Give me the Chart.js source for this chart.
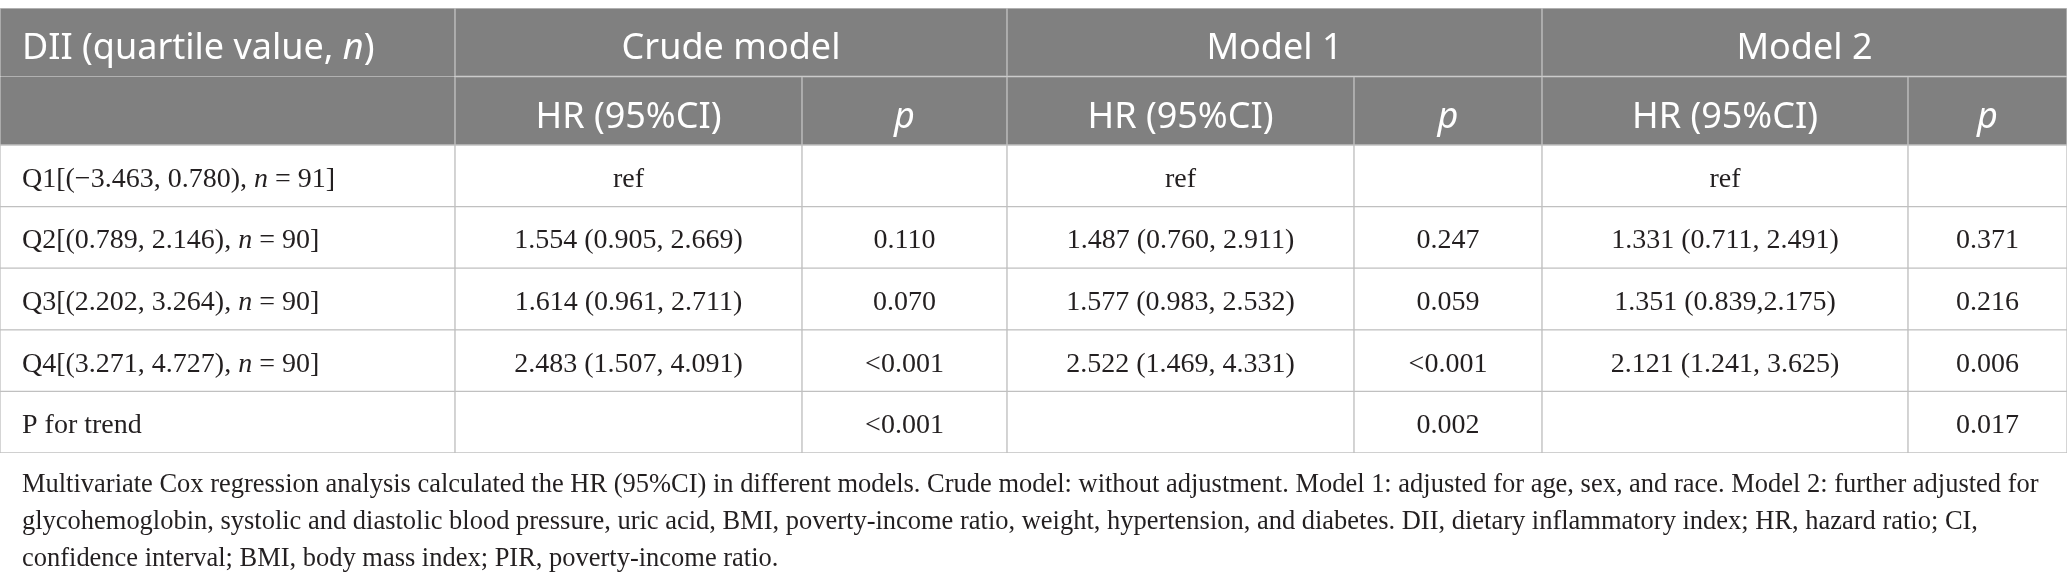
<!DOCTYPE html>
<html>
<head>
<meta charset="utf-8">
<script src="https://cdn.jsdelivr.net/npm/chart.js@4"></script>
<style>
  html, body { margin: 0; padding: 0; background: #fff; }
  #table0 { display: block; }
</style>
</head>
<body>
<canvas id="table0" width="2067" height="584"></canvas>
<script>
// DATA (text wrapped in *...* is italic)

const firstHeader = 'DII (quartile value, *n*)'
const modelNames = ['Crude model', 'Model 1', 'Model 2']
const subHeaders = ['HR (95%CI)', '*p*']

const rowKeys = ['Q1', 'Q2', 'Q3', 'Q4', 'P']
const rowLabels = [
    'Q1[(\u22123.463, 0.780), *n* = 91]',
    'Q2[(0.789, 2.146), *n* = 90]',
    'Q3[(2.202, 3.264), *n* = 90]',
    'Q4[(3.271, 4.727), *n* = 90]',
    'P for trend'
]

const crudeHR = ['ref', '1.554 (0.905, 2.669)', '1.614 (0.961, 2.711)', '2.483 (1.507, 4.091)', '']
const crudeP = ['', '0.110', '0.070', '<0.001', '<0.001']
const model1HR = ['ref', '1.487 (0.760, 2.911)', '1.577 (0.983, 2.532)', '2.522 (1.469, 4.331)', '']
const model1P = ['', '0.247', '0.059', '<0.001', '0.002']
const model2HR = ['ref', '1.331 (0.711, 2.491)', '1.351 (0.839,2.175)', '2.121 (1.241, 3.625)', '']
const model2P = ['', '0.371', '0.216', '0.006', '0.017']

const footnote = [
    'Multivariate Cox regression analysis calculated the HR (95%CI) in different models. Crude model: without adjustment. Model 1: adjusted for age, sex, and race. Model 2: further adjusted for',
    'glycohemoglobin, systolic and diastolic blood pressure, uric acid, BMI, poverty-income ratio, weight, hypertension, and diabetes. DII, dietary inflammatory index; HR, hazard ratio; CI,',
    'confidence interval; BMI, body mass index; PIR, poverty-income ratio.'
]

// LAYOUT

const colWidths = [455, 347, 205, 347, 188, 366, 159]
const colEdges = [0]
colWidths.forEach((w, i) => colEdges.push(colEdges[i] + w))

const HEAD_BG = '#808080'
const LINE = '#c0c0c0'
const INK = '#231f20'
const headFont = '"Noto Sans", sans-serif'
const bodyFont = '"Liberation Serif", serif'

// header cells: row, first column, last column (exclusive), text
const headCells = [
    { row: 'h1', c0: 0, c1: 1, text: firstHeader, left: true, border: { top: 1, left: 1, right: 1, bottom: 0 } },
    { row: 'h2', c0: 0, c1: 1, text: '', border: { top: 0, left: 1, right: 1, bottom: 1 } }
]
modelNames.forEach((name, m) => {
    headCells.push({ row: 'h1', c0: 1 + 2 * m, c1: 3 + 2 * m, text: name })
})
modelNames.forEach((name, m) => {
    subHeaders.forEach((s, k) => {
        headCells.push({ row: 'h2', c0: 1 + 2 * m + k, c1: 2 + 2 * m + k, text: s })
    })
})

const bodyColumns = [rowLabels, crudeHR, crudeP, model1HR, model1P, model2HR, model2P]
const bodyCells = []
rowKeys.forEach((key, r) => {
    bodyColumns.forEach((col, c) => {
        bodyCells.push({ row: key, c0: c, c1: c + 1, text: col[r], left: c === 0 })
    })
})

// draw "a *b* c" as runs, alternating roman / italic
function drawRuns(ctx, text, x, y, size, family, align) {
    const parts = text.split('*')
    const fonts = parts.map((p, i) => (i % 2 ? 'italic ' : '') + size + 'px ' + family)
    let total = 0
    parts.forEach((p, i) => { ctx.font = fonts[i]; total += ctx.measureText(p).width })
    let cx = align === 'left' ? x : x - total / 2
    ctx.textAlign = 'left'
    parts.forEach((p, i) => {
        ctx.font = fonts[i]
        ctx.fillText(p, cx, y)
        cx += ctx.measureText(p).width
    })
}

const cellText = {
    id: 'cellText',
    afterDatasetsDraw(chart) {
        const ctx = chart.ctx
        ctx.save()
        ctx.textBaseline = 'alphabetic'
        const groups = [
            { meta: chart.getDatasetMeta(0), cells: headCells, color: '#ffffff', size: 36, family: headFont, shift: 17 },
            { meta: chart.getDatasetMeta(1), cells: bodyCells, color: INK, size: 28, family: bodyFont, shift: 11 }
        ]
        groups.forEach(g => {
            ctx.fillStyle = g.color
            g.meta.data.forEach((bar, i) => {
                const cell = g.cells[i]
                if (!cell.text) return
                const p = bar.getProps(['x', 'y', 'base'], true)
                const left = Math.min(p.x, p.base)
                const right = Math.max(p.x, p.base)
                const tx = cell.left ? left + 22 : (left + right) / 2
                drawRuns(ctx, cell.text, tx, p.y + g.shift, g.size, g.family, cell.left ? 'left' : 'center')
            })
        })
        ctx.restore()
    },
    afterDraw(chart) {
        // caption under the table, first line fitted to the table width
        const ctx = chart.ctx
        const area = chart.chartArea
        ctx.save()
        ctx.fillStyle = INK
        ctx.font = '28px ' + bodyFont
        const w = ctx.measureText(footnote[0]).width
        const size = Math.min(28, 28 * (area.right - area.left - 50) / w)
        ctx.font = size.toFixed(2) + 'px ' + bodyFont
        ctx.textAlign = 'left'
        ctx.textBaseline = 'alphabetic'
        footnote.forEach((line, i) => {
            ctx.fillText(line, area.left + 22, area.bottom + 39 + i * 37)
        })
        ctx.restore()
    }
}

const cellBar = {
    borderColor: LINE,
    borderSkipped: false,
    grouped: false,
    barPercentage: 1,
    categoryPercentage: 1
}

new Chart(document.getElementById('table0').getContext('2d'), {
    type: 'bar',
    data: {
        datasets: [
            {
                ...cellBar,
                label: 'header',
                yAxisID: 'yHead',
                data: headCells.map(c => ({ x: [colEdges[c.c0], colEdges[c.c1]], y: c.row })),
                backgroundColor: HEAD_BG,
                borderWidth: ctx => headCells[ctx.dataIndex] && headCells[ctx.dataIndex].border || 1
            },
            {
                ...cellBar,
                label: 'body',
                yAxisID: 'yBody',
                data: bodyCells.map(c => ({ x: [colEdges[c.c0], colEdges[c.c1]], y: c.row })),
                backgroundColor: '#ffffff',
                borderWidth: 1
            }
        ]
    },
    options: {
        indexAxis: 'y',
        responsive: false,
        animation: false,
        layout: { padding: { top: 8, bottom: 131, left: 0, right: 0 } },
        plugins: { legend: { display: false }, tooltip: { enabled: false } },
        scales: {
            x: { type: 'linear', min: 0, max: colEdges[colEdges.length - 1], display: false },
            yBody: { type: 'category', labels: rowKeys, offset: true, display: false, stack: 'rows', stackWeight: 308 },
            yHead: { type: 'category', labels: ['h1', 'h2'], offset: true, display: false, stack: 'rows', stackWeight: 137 }
        }
    },
    plugins: [cellText]
})
</script>
</body>
</html>
